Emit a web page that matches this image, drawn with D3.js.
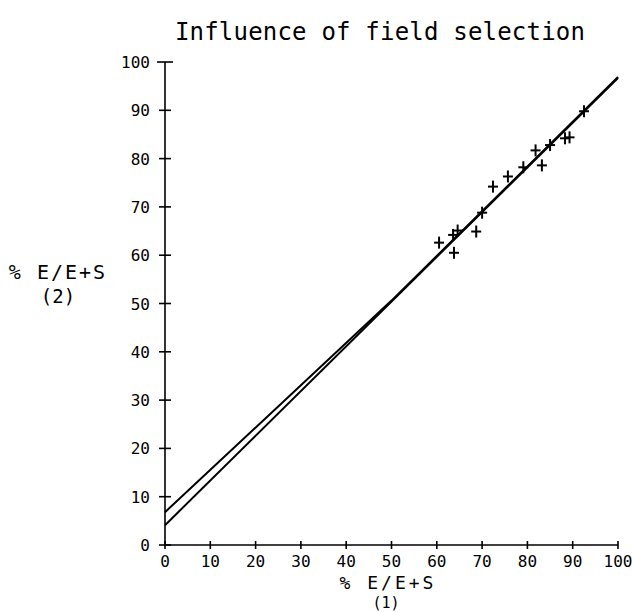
<!DOCTYPE html>
<html>
<head>
<meta charset="utf-8">
<script src="https://cdn.jsdelivr.net/npm/d3@7"></script>
<style>
  body { margin: 0; background: #fff; }
  svg text { font-family: "DejaVu Sans Mono", monospace; fill: #000; }
</style>
</head>
<body>
<svg id="chart" width="632" height="612"></svg>
<script>
// observed points: % E/E+S (1) vs % E/E+S (2)
var xVals = [60.5, 63.8, 63.6, 64.6, 68.7, 70.0, 72.4, 75.7, 79.1, 81.8, 83.2, 85.0, 88.3, 89.3, 92.5];
var yVals = [62.6, 60.5, 64.2, 65.1, 64.9, 68.8, 74.2, 76.3, 78.2, 81.7, 78.6, 82.8, 84.2, 84.4, 89.8];

// the two fitted lines
var lineLowX = [0, 100];
var lineLowY = [4.1, 96.7];
var lineHighX = [0, 50, 100];
var lineHighY = [6.8, 50.6, 96.9];

var tickVals = [0, 10, 20, 30, 40, 50, 60, 70, 80, 90, 100];

var svg = d3.select('#chart');

var x = d3.scaleLinear().domain([0, 100]).range([165, 618]);
var y = d3.scaleLinear().domain([0, 100]).range([545, 62]);

// title
svg.append('text')
  .attr('x', 380).attr('y', 40)
  .attr('text-anchor', 'middle')
  .attr('font-size', '24px')
  .attr('letter-spacing', '0.2px')
  .text('Influence of field selection');

// axes
var ax = svg.append('g').attr('stroke', '#000').attr('stroke-width', 1.6);
ax.append('line').attr('x1', x(0)).attr('x2', x(100)).attr('y1', y(0)).attr('y2', y(0));
ax.append('line').attr('x1', x(0)).attr('x2', x(0)).attr('y1', y(0)).attr('y2', y(100));

ax.selectAll('.xt').data(tickVals).enter().append('line')
  .attr('x1', function (d) { return x(d); })
  .attr('x2', function (d) { return x(d); })
  .attr('y1', y(0) - 4).attr('y2', y(0) + 4);

ax.selectAll('.yt').data(tickVals).enter().append('line')
  .attr('x1', function (d) { return d === 100 ? x(0) - 8 : x(0) - 6; })
  .attr('x2', function (d) { return d === 100 ? x(0) + 8 : x(0) + 6; })
  .attr('y1', function (d) { return y(d); })
  .attr('y2', function (d) { return y(d); });

svg.selectAll('.xl').data(tickVals).enter().append('text')
  .attr('x', function (d) { return x(d); })
  .attr('y', y(0) + 22)
  .attr('text-anchor', 'middle')
  .attr('font-size', '16px')
  .text(function (d) { return d; });

svg.selectAll('.yl').data(tickVals).enter().append('text')
  .attr('x', 150)
  .attr('y', function (d) { return y(d) + 6; })
  .attr('text-anchor', 'end')
  .attr('font-size', '16px')
  .text(function (d) { return d; });

// axis titles
svg.append('text')
  .attr('x', 388).attr('y', 589)
  .attr('text-anchor', 'middle')
  .attr('font-size', '18px')
  .attr('letter-spacing', '3px')
  .text('% E/E+S');
svg.append('text')
  .attr('x', 386).attr('y', 608)
  .attr('text-anchor', 'middle')
  .attr('font-size', '15px')
  .text('(1)');

svg.append('text')
  .attr('x', 58).attr('y', 279)
  .attr('text-anchor', 'middle')
  .attr('font-size', '20px')
  .attr('letter-spacing', '2px')
  .text('% E/E+S');
svg.append('text')
  .attr('x', 58).attr('y', 303)
  .attr('text-anchor', 'middle')
  .attr('font-size', '19px')
  .text('(2)');

// fitted lines
var line = d3.line()
  .x(function (d) { return x(d[0]); })
  .y(function (d) { return y(d[1]); });

svg.append('path')
  .datum(d3.zip(lineLowX, lineLowY))
  .attr('d', line)
  .attr('fill', 'none').attr('stroke', '#000').attr('stroke-width', 2);
svg.append('path')
  .datum(d3.zip(lineHighX, lineHighY))
  .attr('d', line)
  .attr('fill', 'none').attr('stroke', '#000').attr('stroke-width', 2);

// crosses
var pts = svg.selectAll('.pt').data(d3.zip(xVals, yVals)).enter().append('g')
  .attr('transform', function (d) { return 'translate(' + x(d[0]) + ',' + y(d[1]) + ')'; })
  .attr('stroke', '#000').attr('stroke-width', 2);
pts.append('line').attr('x1', -5).attr('x2', 5).attr('y1', 0).attr('y2', 0);
pts.append('line').attr('x1', 0).attr('x2', 0).attr('y1', -6).attr('y2', 6);
</script>
</body>
</html>
